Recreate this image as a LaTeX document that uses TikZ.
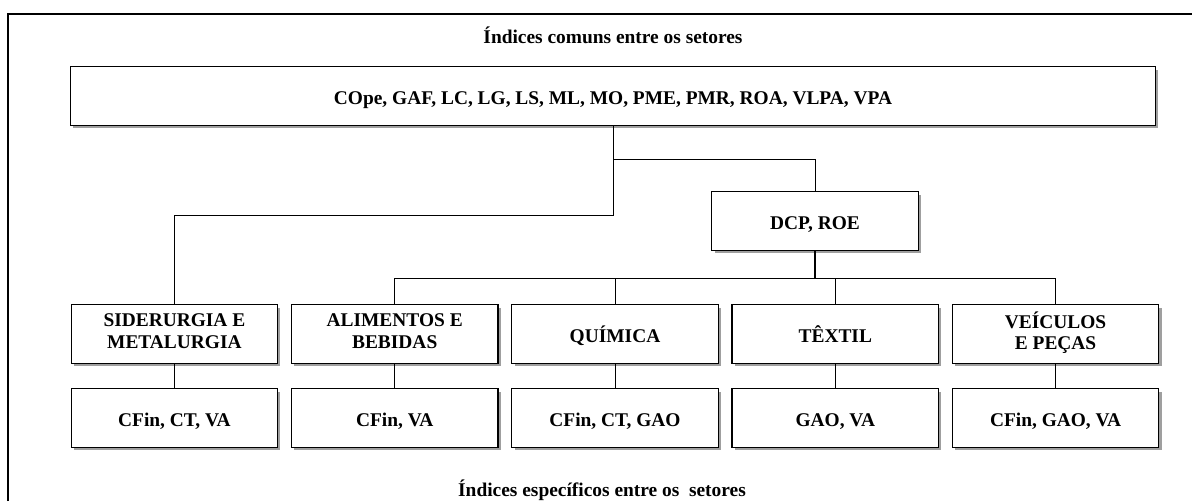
\documentclass[tikz,border=0pt]{standalone}
\usepackage{fontspec}
\setmainfont{Liberation Serif}
\usepackage{tikz}
\usetikzlibrary{calc, shadows}

\begin{document}
\begin{tikzpicture}[x=0.025cm, y=-0.025cm,
	every node/.style={font=\fontsize{13.8}{15.5}\selectfont\bfseries, align=center},
	box/.style={draw, line width=0.9pt, fill=white, minimum width=5.16cm, minimum height=1.46cm, inner sep=0pt,
		execute at begin node=\rule{0pt}{17pt}, execute at end node=\strut,
		drop shadow={shadow xshift=2pt, shadow yshift=-2pt, fill=black!75, opacity=0.5}},
	link/.style={line width=0.7pt}]
	\useasboundingbox (0,0) rectangle (1192,501);
	\draw [line width=1.4pt] (8,501) -- (8,14) -- (1192,14);
	
	\node (ttop) at (613,35) {Índices comuns entre os setores};
	\node (tbot) at (602,490) {Índices específicos entre os\ \ setores};
	
	\node [box, minimum width=27.11cm] (common) at (613,96) {COpe, GAF, LC, LG, LS, ML, MO, PME, PMR, ROA, VLPA, VPA};
	\node [box] (dcp) at (815,221) {DCP, ROE};
	
	\node [box] (sid) at (174.4,334) {SIDERURGIA E\\METALURGIA};
	\node [box] (ali) at (394.7,334) {ALIMENTOS E\\BEBIDAS};
	\node [box] (qui) at (615,334) {QUÍMICA};
	\node [box] (tex) at (835.3,334) {TÊXTIL};
	\node [box] (vei) at (1055.6,334) {VEÍCULOS\\E PEÇAS};
	
	\node [box] (sid-idx) at (174.4,418) {CFin, CT, VA};
	\node [box] (ali-idx) at (394.7,418) {CFin, VA};
	\node [box] (qui-idx) at (615,418) {CFin, CT, GAO};
	\node [box] (tex-idx) at (835.3,418) {GAO, VA};
	\node [box] (vei-idx) at (1055.6,418) {CFin, GAO, VA};
	
	\coordinate (j1) at (613,159);
	\coordinate (j2) at (613,215);
	\coordinate (j3) at (815,278);
	
	\draw [link] (common.south) -- (j2) -| (sid.north);
	\draw [link] (j1) -| (dcp.north);
	\draw [line width=1.4pt] (dcp.south) -- (j3);
	\foreach \s in {ali,qui,tex,vei}
		\draw [link] (j3) -| (\s.north);
	\foreach \s in {sid,ali,qui,tex,vei}
		\draw [link] (\s.south) -- (\s-idx.north);
\end{tikzpicture}
\end{document}
